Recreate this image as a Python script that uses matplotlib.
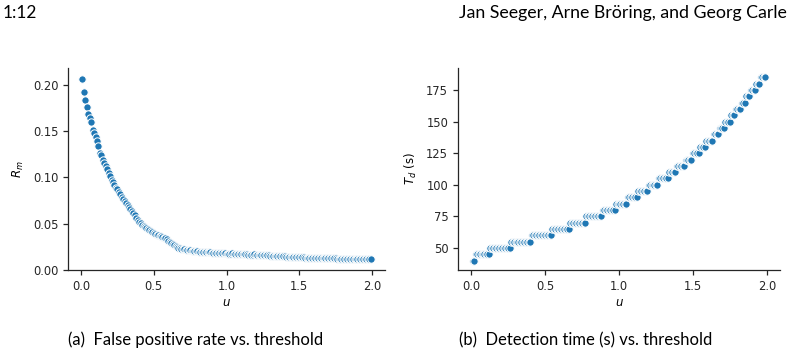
import matplotlib
matplotlib.use("Agg")
import matplotlib.pyplot as plt

# ---------------- data ----------------
u = [0.01, 0.02, 0.03, 0.04, 0.05, 0.06, 0.07, 0.08, 0.09, 0.10,
     0.11, 0.12, 0.13, 0.14, 0.15, 0.16, 0.17, 0.18, 0.19, 0.20,
     0.21, 0.22, 0.23, 0.24, 0.25, 0.26, 0.27, 0.28, 0.29, 0.30,
     0.31, 0.32, 0.33, 0.34, 0.35, 0.36, 0.37, 0.38, 0.39, 0.40,
     0.41, 0.42, 0.43, 0.44, 0.45, 0.46, 0.47, 0.48, 0.49, 0.50,
     0.51, 0.52, 0.53, 0.54, 0.55, 0.56, 0.57, 0.58, 0.59, 0.60,
     0.61, 0.62, 0.63, 0.64, 0.65, 0.66, 0.67, 0.68, 0.69, 0.70,
     0.71, 0.72, 0.73, 0.74, 0.75, 0.76, 0.77, 0.78, 0.79, 0.80,
     0.81, 0.82, 0.83, 0.84, 0.85, 0.86, 0.87, 0.88, 0.89, 0.90,
     0.91, 0.92, 0.93, 0.94, 0.95, 0.96, 0.97, 0.98, 0.99, 1.00,
     1.01, 1.02, 1.03, 1.04, 1.05, 1.06, 1.07, 1.08, 1.09, 1.10,
     1.11, 1.12, 1.13, 1.14, 1.15, 1.16, 1.17, 1.18, 1.19, 1.20,
     1.21, 1.22, 1.23, 1.24, 1.25, 1.26, 1.27, 1.28, 1.29, 1.30,
     1.31, 1.32, 1.33, 1.34, 1.35, 1.36, 1.37, 1.38, 1.39, 1.40,
     1.41, 1.42, 1.43, 1.44, 1.45, 1.46, 1.47, 1.48, 1.49, 1.50,
     1.51, 1.52, 1.53, 1.54, 1.55, 1.56, 1.57, 1.58, 1.59, 1.60,
     1.61, 1.62, 1.63, 1.64, 1.65, 1.66, 1.67, 1.68, 1.69, 1.70,
     1.71, 1.72, 1.73, 1.74, 1.75, 1.76, 1.77, 1.78, 1.79, 1.80,
     1.81, 1.82, 1.83, 1.84, 1.85, 1.86, 1.87, 1.88, 1.89, 1.90,
     1.91, 1.92, 1.93, 1.94, 1.95, 1.96, 1.97, 1.98, 1.99]

r_m = [.206, .192, .184, .176, .168, .164, .160, .151, .148, .143,
       .139, .134, .126, .124, .119, .115, .112, .109, .105, .101,
       .097, .095, .092, .089, .087, .084, .082, .079, .077, .075,
       .072, .070, .068, .066, .064, .062, .059, .056, .054, .052,
       .051, .049, .048, .046, .045, .044, .043, .042, .041, .040,
       .039, .038, .0375, .037, .0365, .036, .035, .034, .033, .031,
       .030, .029, .028, .027, .026, .025, .024, .0238, .023, .0228,
       .0222, .022, .0218, .0215, .0212, .021, .0208, .0205, .0203, .0200,
       .0198, .0197, .0196, .0194, .0193, .0192, .0191, .019, .0189, .0188,
       .0187, .0186, .0185, .0184, .0183, .0182, .0181, .018, .0179, .0178,
       .0177, .0177, .0178, .0179, .0178, .0176, .0175, .0174, .0173, .0172,
       .0171, .0170, .0169, .0168, .0167, .0166, .0166, .0167, .0168, .0166,
       .0164, .0163, .0162, .0161, .0160, .0159, .0158, .0157, .0157, .0156,
       .0155, .0154, .0153, .0152, .0151, .0150, .0149, .0148, .0147, .0146,
       .0145, .0144, .0143, .0142, .0141, .0140, .0139, .0139, .0138, .0137,
       .0136, .0136, .0135, .0134, .0134, .0133, .0133, .0132, .0132, .0131,
       .0131, .0130, .0130, .0130, .0129, .0129, .0128, .0128, .0127, .0127,
       .0126, .0126, .0126, .0125, .0125, .0124, .0124, .0124, .0123, .0123,
       .0123, .0122, .0122, .0122, .0121, .0121, .0121, .0120, .0120, .0120,
       .0119, .0119, .0119, .0118, .0118, .0118, .0118, .0117, .0117]

t_d = [40, 40,
       45, 45, 45, 45, 45, 45, 45, 45, 45, 45,
       50, 50, 50, 50, 50, 50, 50, 50, 50, 50, 50, 50, 50, 50,
       55, 55, 55, 55, 55, 55, 55, 55, 55, 55, 55, 55, 55, 55,
       60, 60, 60, 60, 60, 60, 60, 60, 60, 60, 60, 60, 60, 60,
       65, 65, 65, 65, 65, 65, 65, 65, 65, 65, 65, 65,
       70, 70, 70, 70, 70, 70, 70, 70, 70, 70, 70,
       75, 75, 75, 75, 75, 75, 75, 75, 75, 75, 75,
       80, 80, 80, 80, 80, 80, 80, 80, 80,
       85, 85, 85, 85, 85, 85, 85, 85,
       90, 90, 90, 90, 90, 90, 90,
       95, 95, 95, 95, 95, 95, 95,
       100, 100, 100, 100, 100, 100, 100,
       105, 105, 105, 105, 105, 105, 105,
       110, 110, 110, 110, 110,
       115, 115, 115, 115, 115, 115,
       120, 120, 120, 120, 120,
       125, 125, 125, 125, 125,
       130, 130, 130, 130,
       135, 135, 135, 135, 135,
       140, 140, 140, 140,
       145, 145, 145, 145,
       150, 150, 150, 150,
       155, 155, 155,
       160, 160, 160, 160,
       165, 165, 165,
       170, 170, 170,
       175, 175, 175, 175,
       180, 180, 180,
       185, 185, 185, 185]

x_ticks = [0.0, 0.5, 1.0, 1.5, 2.0]
left_yticks = [0.00, 0.05, 0.10, 0.15, 0.20]
right_yticks = [50, 75, 100, 125, 150, 175]

header_left = "1:12"
header_right = "Jan Seeger, Arne Br\u00f6ring, and Georg Carle"
caption_a = "(a)  False positive rate vs. threshold"
caption_b = "(b)  Detection time (s) vs. threshold"

# ---------------- figure ----------------
W, H, DPI = 799, 356, 100
fig = plt.figure(figsize=(W / DPI, H / DPI), dpi=DPI)

tick_fs = 8.3
label_fs = 8.5
color = "#1f77b4"
text_family = ["Lato", "DejaVu Sans"]

def ax_rect(x0, x1, ytop, ybot):
    return [x0 / W, 1 - ybot / H, (x1 - x0) / W, (ybot - ytop) / H]

ax1 = fig.add_axes(ax_rect(68, 385, 68, 270))
ax2 = fig.add_axes(ax_rect(458, 780, 68, 270))

for ax, y, yt, ylab in [(ax1, r_m, left_yticks, r"$R_m$"),
                        (ax2, t_d, right_yticks, r"$T_d$ (s)")]:
    ax.scatter(u, y, s=28, color=color, edgecolors="white", linewidths=0.7, zorder=3)
    ax.spines["top"].set_visible(False)
    ax.spines["right"].set_visible(False)
    for sp in ("left", "bottom"):
        ax.spines[sp].set_color("#262626")
        ax.spines[sp].set_linewidth(0.9)
    ax.set_xticks(x_ticks)
    ax.set_yticks(yt)
    ax.tick_params(labelsize=tick_fs, colors="#262626", length=3.5, width=0.9)
    ax.set_xlabel(r"$u$", fontsize=label_fs, labelpad=2)
    ax.set_ylabel(ylab, fontsize=label_fs, labelpad=5)

ax1.set_yticklabels([f"{v:.2f}" for v in left_yticks])
ax1.set_xticklabels([f"{v:.1f}" for v in x_ticks])
ax2.set_xticklabels([f"{v:.1f}" for v in x_ticks])
ax1.set_ylim(0.0, 0.218)

fig.text(3 / W, 1 - 13 / H, header_left, fontsize=12.5, family=text_family, va="center", ha="left")
fig.text(787 / W, 1 - 13 / H, header_right, fontsize=12.8, family=text_family, va="center", ha="right")
fig.text(68 / W, 1 - 340 / H, caption_a, fontsize=12, family=text_family, va="center", ha="left")
fig.text(459 / W, 1 - 340 / H, caption_b, fontsize=12, family=text_family, va="center", ha="left")

fig.savefig("out.png", dpi=DPI)
